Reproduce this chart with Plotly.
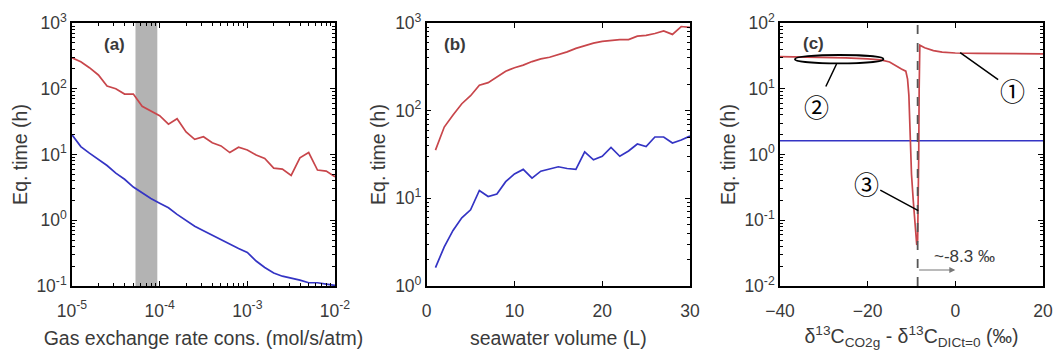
import math
import plotly.graph_objects as go

# ---------------- data ----------------
# Panel (a): gas exchange rate constant (mol/s/atm), log-spaced
k_gas = [1.00e-5, 1.26e-5, 1.58e-5, 2.00e-5, 2.51e-5, 3.16e-5, 3.98e-5, 5.01e-5, 6.31e-5, 7.94e-5,
         1.00e-4, 1.26e-4, 1.58e-4, 2.00e-4, 2.51e-4, 3.16e-4, 3.98e-4, 5.01e-4, 6.31e-4, 7.94e-4,
         1.00e-3, 1.26e-3, 1.58e-3, 2.00e-3, 2.51e-3, 3.16e-3, 3.98e-3, 5.01e-3, 6.31e-3, 7.94e-3,
         1.00e-2]
a_red = [295, 257, 209, 162, 110, 100, 83, 83, 54, 46,
         39, 29, 35, 22, 17, 18.6, 15.1, 13.5, 10.7, 12.9,
         11.7, 9.8, 8.7, 6.2, 6.0, 4.8, 8.9, 10.7, 5.8, 5.6,
         4.6]
a_blue = [20.0, 13.2, 10.5, 8.5, 6.8, 5.2, 4.2, 3.2, 2.6, 2.14,
          1.82, 1.55, 1.23, 0.98, 0.81, 0.69, 0.59, 0.50, 0.437, 0.372,
          0.324, 0.240, 0.191, 0.158, 0.141, 0.132, 0.123, 0.112, 0.112, 0.107,
          0.102]
band_k = [5.3e-5, 9.4e-5]

# Panel (b): seawater volume (L)
volume = list(range(1, 31))
b_red = [35.5, 65, 89, 120, 148, 195, 209, 245, 282, 309,
         331, 363, 389, 407, 437, 468, 513, 550, 589, 617,
         631, 646, 646, 708, 724, 759, 813, 741, 912, 891]
b_blue = [1.62, 2.8, 4.3, 6.0, 7.4, 12.3, 10.5, 11.2, 15.5, 19.0,
          21.4, 17.0, 20.4, 21.4, 22.9, 21.9, 21.4, 33.9, 27.5, 30.2,
          38.0, 30.2, 34.7, 41.7, 38.9, 50.1, 50.1, 42.7, 46.2, 51.3]

# Panel (c): delta13C offset (permil)
d13c = [-40, -35, -30, -25, -20, -17, -15, -13.5, -12.3, -11.3,
        -10.9, -10.6, -10.4, -10.2, -10.0, -9.6, -9.2, -8.8, -8.6, -8.45,
        -8.35, -8.25, -8.1, -7, -5, -3, 0, 5, 10, 20]
c_red = [30.8, 30.5, 30.0, 29.5, 28.5, 27.5, 25.5, 22, 20, 18.5,
         14, 8, 3, 1.2, 0.5, 0.2, 0.1, 0.042, 0.05, 0.15,
         1.0, 10, 46, 42, 38, 36, 35, 34.5, 34.2, 34]
c_blue_x = [-40, 20]
c_blue = [1.62, 1.62]
offset_line = -8.6

RED = "#C8464B"
BLUE = "#3434C4"
TXT = "#3A3A3A"
FONT = "Liberation Sans"
TICK_SIZE = 17.5
TITLE_SIZE = 19.5

fig = go.Figure()
fig.add_trace(go.Scatter(x=k_gas, y=a_red, mode="lines", line=dict(color=RED, width=1.7), xaxis="x", yaxis="y"))
fig.add_trace(go.Scatter(x=k_gas, y=a_blue, mode="lines", line=dict(color=BLUE, width=1.7), xaxis="x", yaxis="y"))
fig.add_trace(go.Scatter(x=volume, y=b_red, mode="lines", line=dict(color=RED, width=1.7), xaxis="x2", yaxis="y2"))
fig.add_trace(go.Scatter(x=volume, y=b_blue, mode="lines", line=dict(color=BLUE, width=1.7), xaxis="x2", yaxis="y2"))
fig.add_trace(go.Scatter(x=c_blue_x, y=c_blue, mode="lines", line=dict(color=BLUE, width=1.5), xaxis="x3", yaxis="y3"))
fig.add_trace(go.Scatter(x=d13c, y=c_red, mode="lines", line=dict(color=RED, width=1.7), xaxis="x3", yaxis="y3"))

W, H = 1054, 352
ytop, ybot = 1 - 23 / H, 1 - 286 / H


def sup(v):
    return "10<sup>%s</sup>" % v


common_ax = dict(showline=True, linecolor="black", linewidth=1.5, mirror="ticks", ticks="inside",
                 ticklen=5, tickcolor="black", showgrid=False, zeroline=False, automargin=False,
                 tickfont=dict(family=FONT, size=TICK_SIZE, color=TXT))
minor_log = dict(ticks="inside", ticklen=3, tickcolor="black", dtick="D1", showgrid=False)
xt = dict(ticklabelstandoff=8)
title_font = dict(family=FONT, size=TITLE_SIZE, color=TXT)

layout = dict(
    width=W, height=H, margin=dict(l=0, r=0, t=0, b=0, autoexpand=False),
    paper_bgcolor="white", plot_bgcolor="white", showlegend=False,
    font=dict(family=FONT, color=TXT),
    xaxis=dict(common_ax, **xt, type="log", domain=[72 / W, 335 / W], range=[-5, -2],
               tickvals=[1e-5, 1e-4, 1e-3, 1e-2], ticktext=[sup(-5), sup(-4), sup(-3), sup(-2)],
               minor=minor_log, anchor="y",
               title=dict(text="Gas exchange rate cons. (mol/s/atm)", font=title_font, standoff=12)),
    yaxis=dict(common_ax, type="log", domain=[ybot, ytop], range=[-1, 3],
               tickvals=[0.1, 1, 10, 100, 1000], ticktext=[sup(-1), sup(0), sup(1), sup(2), sup(3)],
               minor=minor_log, anchor="x",
               title=dict(text="Eq. time (h)", font=title_font, standoff=4)),
    xaxis2=dict(common_ax, **xt, domain=[426.7 / W, 690 / W], range=[0, 30], tickvals=[0, 10, 20, 30], anchor="y2",
                title=dict(text="seawater volume (L)", font=title_font, standoff=12)),
    yaxis2=dict(common_ax, type="log", domain=[ybot, ytop], range=[0, 3],
                tickvals=[1, 10, 100, 1000], ticktext=[sup(0), sup(1), sup(2), sup(3)],
                minor=minor_log, anchor="x2",
                title=dict(text="Eq. time (h)", font=title_font, standoff=4)),
    xaxis3=dict(common_ax, **xt, domain=[780 / W, 1043 / W], range=[-40, 20], tickvals=[-40, -20, 0, 20], anchor="y3",
                title=dict(text="δ<sup>13</sup>C<sub>CO2g</sub> - δ<sup>13</sup>C<sub>DICt=0</sub> (‰)",
                           font=title_font, standoff=10)),
    yaxis3=dict(common_ax, type="log", domain=[ybot, ytop], range=[-2, 2],
                tickvals=[0.01, 0.1, 1, 10, 100], ticktext=[sup(-2), sup(-1), sup(0), sup(1), sup(2)],
                minor=minor_log, anchor="x3",
                title=dict(text="Eq. time (h)", font=title_font, standoff=4)),
)
fig.update_layout(**layout)

shapes = [
    dict(type="rect", xref="x", yref="y domain", x0=band_k[0], x1=band_k[1], y0=0, y1=1,
         fillcolor="#B3B3B3", line=dict(width=0), layer="below"),
    dict(type="line", xref="x3", yref="y3 domain", x0=offset_line, x1=offset_line, y0=0, y1=1,
         line=dict(color="#555555", width=1.8, dash="dash")),
    dict(type="circle", xref="x3", yref="y3", x0=-36.6, x1=-16.4, y0=24.4, y1=32.6,
         line=dict(color="black", width=1.8)),
]
fig.update_layout(shapes=shapes)

ann = []
for lab, xp, yp in [("(a)", 114, 44), ("(b)", 455, 45), ("(c)", 813, 43)]:
    ann.append(dict(text="<b>%s</b>" % lab, xref="paper", yref="paper", x=xp / W, y=1 - yp / H,
                    xanchor="center", yanchor="middle",
                    showarrow=False, font=dict(family=FONT, size=17, color=TXT)))

circ_font = dict(family="Noto Sans CJK SC", size=25, color="black")
for ch, tx, ty, ax, ay in [("①", 1.1, 35.5, 52, 37), ("②", -27.1, 23.8, -20, 42), ("③", -8.45, 0.14, -52, -28)]:
    ann.append(dict(text=ch, xref="x3", yref="y3", x=tx, y=math.log10(ty), ax=ax, ay=ay,
                    showarrow=True, arrowhead=0, arrowwidth=1.5, arrowcolor="black", font=circ_font))

ann.append(dict(text="~-8.3 ‰", xref="x3", yref="y3", x=2.0, y=math.log10(0.028), showarrow=False,
                font=dict(family=FONT, size=17, color=TXT)))
ann.append(dict(text="", xref="x3", yref="y3", x=0, y=math.log10(0.0175), axref="x3", ayref="y3",
                ax=offset_line, ay=math.log10(0.0175), showarrow=True, arrowhead=2, arrowsize=1,
                arrowwidth=1.2, arrowcolor="#777777"))
fig.update_layout(annotations=ann)

fig.write_html("out.html")
